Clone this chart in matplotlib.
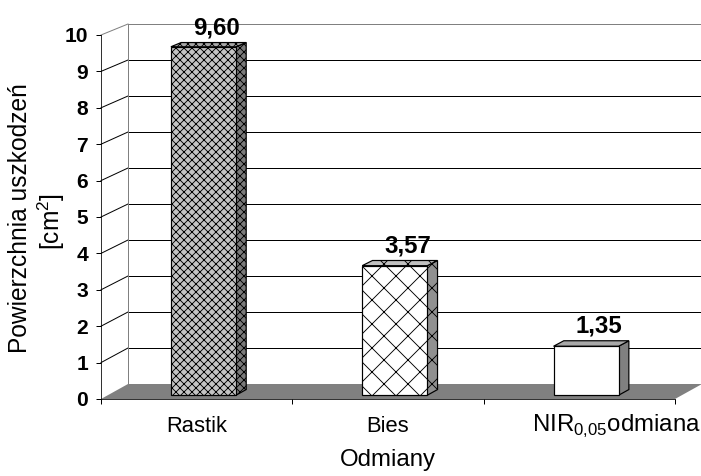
import matplotlib.pyplot as plt
from matplotlib.patches import Polygon

plt.rcParams['font.family'] = ['Liberation Sans', 'DejaVu Sans']
plt.rcParams['mathtext.fontset'] = 'custom'
plt.rcParams['mathtext.rm'] = 'Liberation Sans'
plt.rcParams['hatch.linewidth'] = 0.9

categories = ['Rastik', 'Bies', r'NIR$_{\mathregular{0{,}05}}$odmiana']
values = [9.60, 3.57, 1.35]
value_labels = ['9,60', '3,57', '1,35']
yticks = list(range(0, 11))

# look of each bar: front, side, top colour and hatch
front_col = ['#c4c4c4', 'white', 'white']
side_col = ['#7a7a7a', '#909090', '#808080']
top_col = ['#a8a8a8', '#c0c0c0', '#a8a8a8']
hatches = ['xxx', 'x', '']

# 3d look: shift of the back plane in data units
DX = 27 / 191.33
DV = 15 / 36.4
SHRINK = 0.011
BAR_W = 0.34
D0, D1 = 0.25, 0.63


def proj(x, v, d):
    return (x + d * DX, d * DV + v * (1 - d * SHRINK))


fig = plt.figure(figsize=(701 / 72, 476 / 72), dpi=72)
ax = fig.add_axes([0, 0, 1, 1])
ax.set_xlim(-101 / 191.33, 600 / 191.33)
ax.set_ylim((399 - 476) / 36.4, 399 / 36.4)
ax.set_facecolor('white')

n = len(categories)
vmax = yticks[-1]

# back wall
wall = [proj(0, 0, 1), proj(n, 0, 1), proj(n, vmax, 1), proj(0, vmax, 1)]
ax.add_patch(Polygon(wall, closed=True, facecolor='white', edgecolor='none', zorder=0))
for t in yticks[1:]:
    c = '#808080' if t == vmax else 'black'
    p1, p2 = proj(0, t, 1), proj(n, t, 1)
    ax.plot([p1[0], p2[0]], [p1[1], p2[1]], color=c, lw=1, zorder=0.5)
    q1, q2 = proj(0, t, 0), proj(0, t, 1)
    ax.plot([q1[0], q2[0]], [q1[1], q2[1]], color=c, lw=1, zorder=0.5)
b1, b2 = proj(0, 0, 1), proj(0, vmax, 1)
ax.plot([b1[0], b2[0]], [b1[1], b2[1]], color='#808080', lw=1, zorder=0.5)

# floor
floor = [proj(0, 0, 0), proj(n, 0, 0), proj(n, 0, 1), proj(0, 0, 1)]
ax.add_patch(Polygon(floor, closed=True, facecolor='#808080', edgecolor='none', zorder=0.6))

# bars
for i, v in enumerate(values):
    xl = i + 0.5 - BAR_W / 2
    xr = i + 0.5 + BAR_W / 2
    h = hatches[i]
    front = [proj(xl, 0, D0), proj(xr, 0, D0), proj(xr, v, D0), proj(xl, v, D0)]
    side = [proj(xr, 0, D0), proj(xr, 0, D1), proj(xr, v, D1), proj(xr, v, D0)]
    top = [proj(xl, v, D0), proj(xr, v, D0), proj(xr, v, D1), proj(xl, v, D1)]
    for pts, col in [(side, side_col[i]), (top, top_col[i]), (front, front_col[i])]:
        ax.add_patch(Polygon(pts, closed=True, facecolor=col, edgecolor='black',
                             hatch=h, lw=1.2, zorder=2))
    lx, ly = proj(i + 0.5, v, D1)
    ax.annotate(value_labels[i], (lx, ly), xytext=(3, 8), textcoords='offset points',
                ha='center', va='baseline', fontsize=24, fontweight='bold', zorder=3)

# axes (front plane)
for s in ['top', 'right']:
    ax.spines[s].set_visible(False)
ax.spines['left'].set_position(('data', 0))
ax.spines['left'].set_bounds(0, vmax)
ax.spines['bottom'].set_position(('data', 0))
ax.spines['bottom'].set_bounds(0, n)
ax.set_yticks(yticks)
ax.set_yticklabels([str(t) for t in yticks], fontsize=21, fontweight='bold')
ax.tick_params(axis='y', direction='out', length=5, width=1, pad=8)
ax.set_xticks(range(n + 1))
ax.set_xticklabels([])
ax.tick_params(axis='x', direction='out', length=5, width=1)

x_shift = [0, 0, 37]
x_size = [22, 22, 24]
for i, c in enumerate(categories):
    ax.annotate(c, (i + 0.5, 0), xytext=(x_shift[i], -27), textcoords='offset points',
                ha='center', va='center', fontsize=x_size[i])

ax.annotate('Odmiany', (n / 2, 0), xytext=(0, -61), textcoords='offset points',
            ha='center', va='center', fontsize=24)
ax.text(20, 258, 'Powierzchnia uszkodzeń', transform=None, rotation=90,
        ha='center', va='center', fontsize=24.5)
fig.text(51 / 701, 1 - 221 / 476, r'[cm$^{\mathregular{2}}$]', rotation=90,
         ha='center', va='center', fontsize=24.5)

fig.savefig('out.png', dpi=72)
